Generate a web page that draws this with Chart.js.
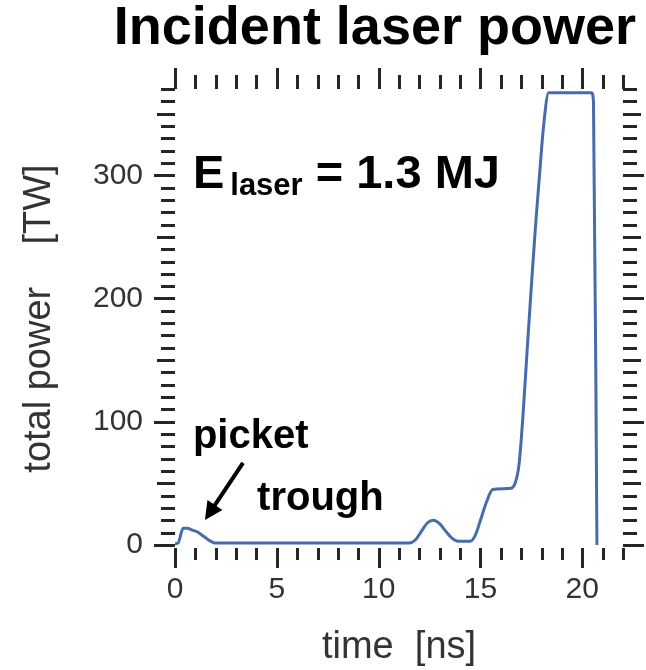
<!DOCTYPE html>
<html>
<head>
<meta charset="utf-8">
<script src="https://cdn.jsdelivr.net/npm/chart.js@4.4.1/dist/chart.umd.min.js"></script>
<style>
  html, body { margin: 0; padding: 0; background: #ffffff; }
  #wrap { width: 646px; height: 670px; position: relative; }
</style>
</head>
<body>
<div id="wrap"><canvas id="pulse"></canvas></div>
<script>
// Laser pulse shape: time in ns, total incident power in TW
const timeNs = [0, 0.15, 0.4, 0.6, 0.85, 1.1, 1.4, 1.7, 1.95, 11.5, 11.8, 12.1, 12.4, 12.7, 13.0, 13.3, 13.6, 13.9, 14.5, 14.75, 15.0, 15.3, 15.6, 16.5, 16.7, 16.9, 17.1, 17.3, 17.5, 17.7, 17.9, 18.1, 18.35, 20.45, 20.55, 20.72];
const powerTW = [1, 1.5, 13.5, 13.5, 12, 10.5, 7, 3.5, 1.5, 1.5, 4, 11, 18, 20, 17, 11, 5.5, 3, 3, 8, 20, 35, 45, 46, 50, 66, 108, 160, 210, 258, 300, 340, 367, 367, 360, 0];

// Labelled ticks
const xTickValues = [0, 5, 10, 15, 20];
const yTickValues = [0, 100, 200, 300];

// Tick mark spacing on the frame
const xMinorStep = 1, xMajorEvery = 5;
const yMinorStep = 10, yMediumEvery = 50, yMajorEvery = 100;

const chartTitle = 'Incident laser power';
const xTitle = 'time  [ns]';
const yTitle = 'total power    [TW]';

const FONT = '"Liberation Sans", Arial, Helvetica, sans-serif';
const AXIS_TEXT = '#333333';
const TICK_INK = '#252525';
const LINE_BLUE = '#466cab';

// Outward tick marks on all four sides of the frame
const frameTicks = {
  id: 'frameTicks',
  afterDraw(chart) {
    const { ctx, chartArea: a, scales: { x, y } } = chart;
    ctx.save();
    ctx.strokeStyle = TICK_INK;
    ctx.lineWidth = 3;
    ctx.beginPath();
    for (let t = x.min; t <= x.max + 1e-9; t += xMinorStep) {
      const px = Math.round(x.getPixelForValue(t)) + 0.5;
      const major = Math.abs(t % xMajorEvery) < 1e-9;
      ctx.moveTo(px, a.bottom); ctx.lineTo(px, a.bottom + (major ? 20 : 12));
      ctx.moveTo(px, a.top);    ctx.lineTo(px, a.top - (major ? 21 : 14));
    }
    for (let p = 0; p <= y.max; p += yMinorStep) {
      const py = Math.round(y.getPixelForValue(p)) + 0.5;
      const len = p % yMajorEvery === 0 ? 21 : (p % yMediumEvery === 0 ? 18 : 14);
      ctx.moveTo(a.left, py);  ctx.lineTo(a.left - len, py);
      ctx.moveTo(a.right, py); ctx.lineTo(a.right + len, py);
    }
    ctx.stroke();
    ctx.restore();
  }
};

// Energy note, picket / trough labels and the arrow
const pulseNotes = {
  id: 'pulseNotes',
  afterDatasetsDraw(chart) {
    const { ctx, scales: { x, y } } = chart;
    ctx.save();
    ctx.fillStyle = '#000000';
    ctx.textAlign = 'left';
    ctx.textBaseline = 'alphabetic';

    // E_laser = 1.3 MJ
    let px = x.getPixelForValue(0.88);
    const py = y.getPixelForValue(289.5);
    ctx.font = `bold 47px ${FONT}`;
    ctx.fillText('E', px, py);
    px += ctx.measureText('E').width + 6;
    ctx.font = `bold 31px ${FONT}`;
    ctx.fillText('laser', px, py + 7);
    px += ctx.measureText('laser').width;
    ctx.font = `bold 47px ${FONT}`;
    ctx.fillText(' = 1.3 MJ', px, py);

    // picket / trough
    ctx.font = `bold 40px ${FONT}`;
    ctx.fillText('picket', x.getPixelForValue(0.88), y.getPixelForValue(78.6));
    ctx.fillText('trough', x.getPixelForValue(4.03), y.getPixelForValue(28.4));

    // arrow pointing at the picket
    const x0 = x.getPixelForValue(3.34), y0 = y.getPixelForValue(66.5);
    const x1 = x.getPixelForValue(1.47), y1 = y.getPixelForValue(20.3);
    const ang = Math.atan2(y1 - y0, x1 - x0);
    const head = 18, half = 9;
    const bx = x1 - head * Math.cos(ang), by = y1 - head * Math.sin(ang);
    ctx.strokeStyle = '#000000';
    ctx.lineWidth = 4;
    ctx.beginPath();
    ctx.moveTo(x0, y0);
    ctx.lineTo(bx + 2 * Math.cos(ang), by + 2 * Math.sin(ang));
    ctx.stroke();
    ctx.beginPath();
    ctx.moveTo(x1, y1);
    ctx.lineTo(bx + half * Math.sin(ang), by - half * Math.cos(ang));
    ctx.lineTo(bx - half * Math.sin(ang), by + half * Math.cos(ang));
    ctx.closePath();
    ctx.fill();
    ctx.restore();
  }
};

const points = timeNs.map((t, i) => ({ x: t, y: powerTW[i] }));

new Chart(document.getElementById('pulse'), {
  type: 'line',
  data: {
    datasets: [{
      data: points,
      borderColor: LINE_BLUE,
      borderWidth: 3,
      pointRadius: 0,
      fill: false,
      cubicInterpolationMode: 'monotone'
    }]
  },
  options: {
    responsive: true,
    maintainAspectRatio: false,
    animation: false,
    layout: { padding: { left: 0, right: 10, top: 0, bottom: 0 } },
    plugins: {
      legend: { display: false },
      tooltip: { enabled: false },
      title: {
        display: true,
        text: chartTitle,
        align: 'end',
        color: '#000000',
        font: { family: FONT, size: 54, weight: 'bold', lineHeight: 1 },
        padding: { top: 2, bottom: 33 }
      }
    },
    scales: {
      x: {
        type: 'linear',
        position: 'bottom',
        min: 0,
        max: 22,
        afterBuildTicks: s => { s.ticks = xTickValues.map(v => ({ value: v })); },
        afterFit: s => { s.height = 122; },
        ticks: {
          color: AXIS_TEXT,
          font: { family: FONT, size: 30 },
          padding: 4,
          maxRotation: 0,
          autoSkip: false
        },
        grid: { display: true, drawOnChartArea: false, drawTicks: true, tickLength: 20, color: 'rgba(0,0,0,0)' },
        border: { display: false },
        title: {
          display: true,
          text: xTitle,
          color: AXIS_TEXT,
          font: { family: FONT, size: 38 },
          padding: { top: 0, bottom: 0 }
        }
      },
      y: {
        type: 'linear',
        position: 'left',
        min: -2.5,
        max: 370,
        afterBuildTicks: s => { s.ticks = yTickValues.map(v => ({ value: v })); },
        afterFit: s => { s.width = 175; },
        ticks: {
          color: AXIS_TEXT,
          font: { family: FONT, size: 30 },
          padding: 11
        },
        grid: { display: true, drawOnChartArea: false, drawTicks: true, tickLength: 21, color: 'rgba(0,0,0,0)' },
        border: { display: false },
        title: {
          display: true,
          text: yTitle,
          color: AXIS_TEXT,
          font: { family: FONT, size: 38 },
          padding: { top: 17, bottom: 0 }
        }
      },
      yRight: {
        type: 'linear',
        position: 'right',
        display: true,
        afterFit: s => { s.width = 13; },
        ticks: { display: false },
        grid: { display: false },
        border: { display: false }
      }
    }
  },
  plugins: [frameTicks, pulseNotes]
});
</script>
</body>
</html>
